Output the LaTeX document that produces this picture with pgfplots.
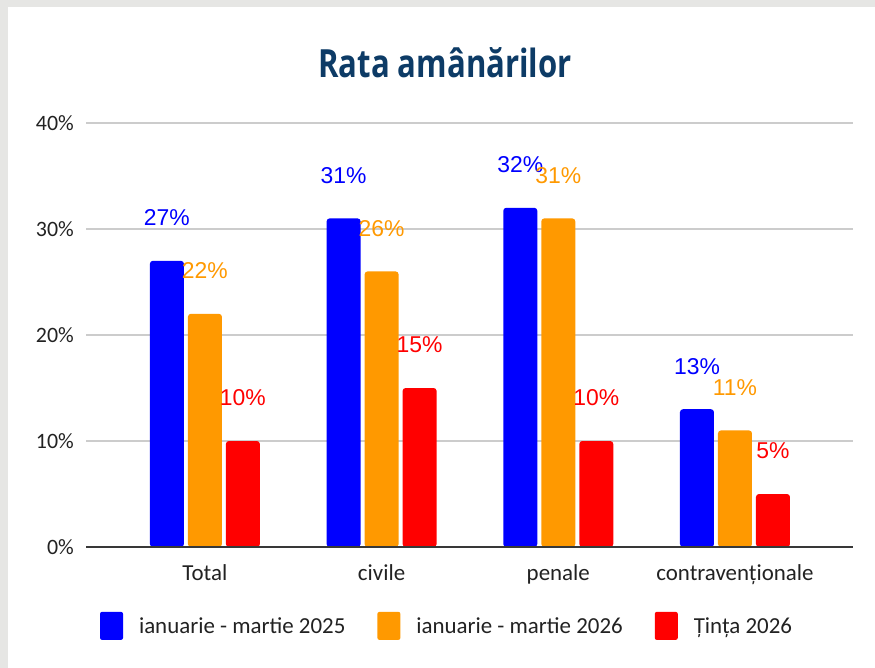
\documentclass[border=0pt]{standalone}
\usepackage{fontspec}
\setmainfont{Carlito}
\newfontfamily\labelfont{Liberation Sans}
\newfontfamily\titlefont{Open Sans}[FakeStretch=0.8]
\usepackage{pgfplots}
\pgfplotsset{compat=1.18}
\definecolor{cblue}{HTML}{0000FF}
\definecolor{corange}{HTML}{FF9900}
\definecolor{cred}{HTML}{FF0000}
\definecolor{bggray}{HTML}{E6E6E4}
\definecolor{titleblue}{HTML}{0D3B66}
\definecolor{gridgray}{HTML}{CCCCCC}
\definecolor{txt}{HTML}{222222}

\begin{document}
\begin{tikzpicture}[x=1bp,y=1bp]
\fill[bggray] (0,0) rectangle (875,-668);
\fill[white] (8,-7) rectangle (875,-668);
\node[font=\titlefont\bfseries\fontsize{39}{44}\selectfont, text=titleblue] at (445,-63) {Rata amânărilor};
\begin{axis}[
    at={(86bp,-547bp)}, anchor=south west,
    scale only axis,
    width=767bp, height=424bp,
    xmin=-0.673, xmax=3.668,
    ymin=0, ymax=40,
    ytick={0,10,20,30,40},
    yticklabel={\pgfmathprintnumber{\tick}\%},
    xtick={0,1,2,3},
    xticklabels={Total,civile,penale,contravenționale},
    /pgf/number format/assume math mode=true,
    axis line style={draw=none},
    major tick length=0pt,
    ymajorgrids,
    grid style={gridgray, line width=1.5bp},
    tick label style={text=txt, inner sep=0pt},
    yticklabel style={font=\fontsize{22}{26}\selectfont, anchor=east, xshift=-12bp},
    xticklabel style={font=\fontsize{23}{27}\selectfont, anchor=north, yshift=-17bp},
    clip=false,
    legend columns=3,
    legend style={at={(0.018,-0.186)}, anchor=west, draw=none, fill=none,
        inner sep=0pt, nodes={inner sep=0pt, anchor=west},
        font=\fontsize{23}{27}\selectfont, text=txt},
    /tikz/every odd column/.append style={column sep=16bp},
    /tikz/every even column/.append style={column sep=32bp},
    nodes near coords={\pgfmathprintnumber{\pgfplotspointmeta}\%},
]
\addplot[ybar, bar width=34bp, bar shift=-38bp, fill=cblue, draw=none, rounded corners=3bp,
    every node near coord/.style={font=\labelfont\fontsize{23}{27}\selectfont, text=cblue, anchor=center, xshift=-38bp, yshift=43bp},
    legend image code/.code={\fill[cblue, rounded corners=2bp] (0bp,-14bp) rectangle (23bp,14bp);}]
    coordinates {(0,27) (1,31) (2,32) (3,13)};
\addlegendentry{ianuarie - martie 2025}
\addplot[ybar, bar width=34bp, bar shift=0bp, fill=corange, draw=none, rounded corners=3bp,
    every node near coord/.style={font=\labelfont\fontsize{23}{27}\selectfont, text=corange, anchor=center, yshift=43bp},
    legend image code/.code={\fill[corange, rounded corners=2bp] (0bp,-14bp) rectangle (23bp,14bp);}]
    coordinates {(0,22) (1,26) (2,31) (3,11)};
\addlegendentry{ianuarie - martie 2026}
\addplot[ybar, bar width=34bp, bar shift=38bp, fill=cred, draw=none, rounded corners=3bp,
    every node near coord/.style={font=\labelfont\fontsize{23}{27}\selectfont, text=cred, anchor=center, xshift=38bp, yshift=43bp},
    legend image code/.code={\fill[cred, rounded corners=2bp] (0bp,-14bp) rectangle (23bp,14bp);}]
    coordinates {(0,10) (1,15) (2,10) (3,5)};
\addlegendentry{Țința 2026}
\draw[txt!90, line width=2bp] (rel axis cs:0,0) -- (rel axis cs:1,0);
\end{axis}
\end{tikzpicture}
\end{document}
